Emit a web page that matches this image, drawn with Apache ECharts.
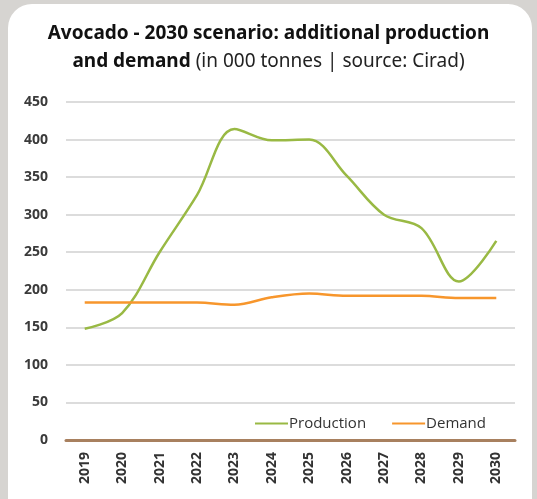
<!DOCTYPE html>
<html><head><meta charset="utf-8">
<script src="https://cdn.jsdelivr.net/npm/echarts@6/dist/echarts.min.js"></script>
<style>
html,body{margin:0;padding:0;width:537px;height:499px;background:#d6d4d1;overflow:hidden;}
#card{position:absolute;left:8px;top:4px;width:524px;height:520px;background:#fff;border-radius:24px;}
#c{position:absolute;left:0;top:0;width:537px;height:499px;}
</style></head>
<body><div id="card"></div><div id="c"></div>
<script>
const years = ['2019','2020','2021','2022','2023','2024','2025','2026','2027','2028','2029','2030'];
const production = [148, 169, 250, 326, 414, 399, 400, 352, 300, 282, 211, 265];
const demand = [183, 183, 183, 183, 180, 190, 195, 192, 192, 192, 189, 189];
const yTicks = [0, 50, 100, 150, 200, 250, 300, 350, 400, 450];

const chart = echarts.init(document.getElementById('c'));
chart.setOption({
  animation: false,
  title: {
    left: 'center', top: 15,
    text: '{b|Avocado - 2030 scenario: additional production}\n{b|and demand}{n| (in 000 tonnes | source: Cirad)}',
    textStyle: {
      rich: {
        b: {fontFamily: 'Noto Sans', fontWeight: 'bold', fontSize: 19, color: '#111', lineHeight: 28},
        n: {fontFamily: 'Noto Sans', fontWeight: 'normal', fontSize: 19, color: '#222', lineHeight: 28}
      }
    }
  },
  legend: {
    right: 46, top: 411,
    icon: 'rect', itemWidth: 33, itemHeight: 2, itemGap: 26,
    textStyle: {fontFamily: 'Open Sans', fontSize: 15, color: '#333', padding: [0,0,0,-4]},
    data: ['Production', 'Demand']
  },
  grid: {left: 66, right: 22, top: 102, bottom: 59},
  xAxis: {
    type: 'category', data: years, boundaryGap: true,
    axisLine: {lineStyle: {color: '#a8805f', width: 3}},
    axisTick: {show: false},
    axisLabel: {rotate: 90, fontFamily: 'Open Sans', fontWeight: 'bold', fontSize: 14, color: '#333', margin: 12}
  },
  yAxis: {
    type: 'value', min: 0, max: 450, interval: 50,
    axisLine: {show: false}, axisTick: {show: false},
    axisLabel: {fontFamily: 'Open Sans', fontWeight: 'bold', fontSize: 14, color: '#3a3a3a', margin: 18,
      formatter: v => yTicks.includes(v) ? String(v) : ''},
    splitLine: {lineStyle: {color: '#dcdcdc', width: 2}}
  },
  series: [
    {name: 'Production', type: 'line', data: production, smooth: 0.35, symbol: 'none',
     lineStyle: {color: '#99b944', width: 2.5}, itemStyle: {color: '#99b944'}},
    {name: 'Demand', type: 'line', data: demand, smooth: 0.35, symbol: 'none',
     lineStyle: {color: '#f7962c', width: 2.5}, itemStyle: {color: '#f7962c'}}
  ]
});
</script></body></html>
